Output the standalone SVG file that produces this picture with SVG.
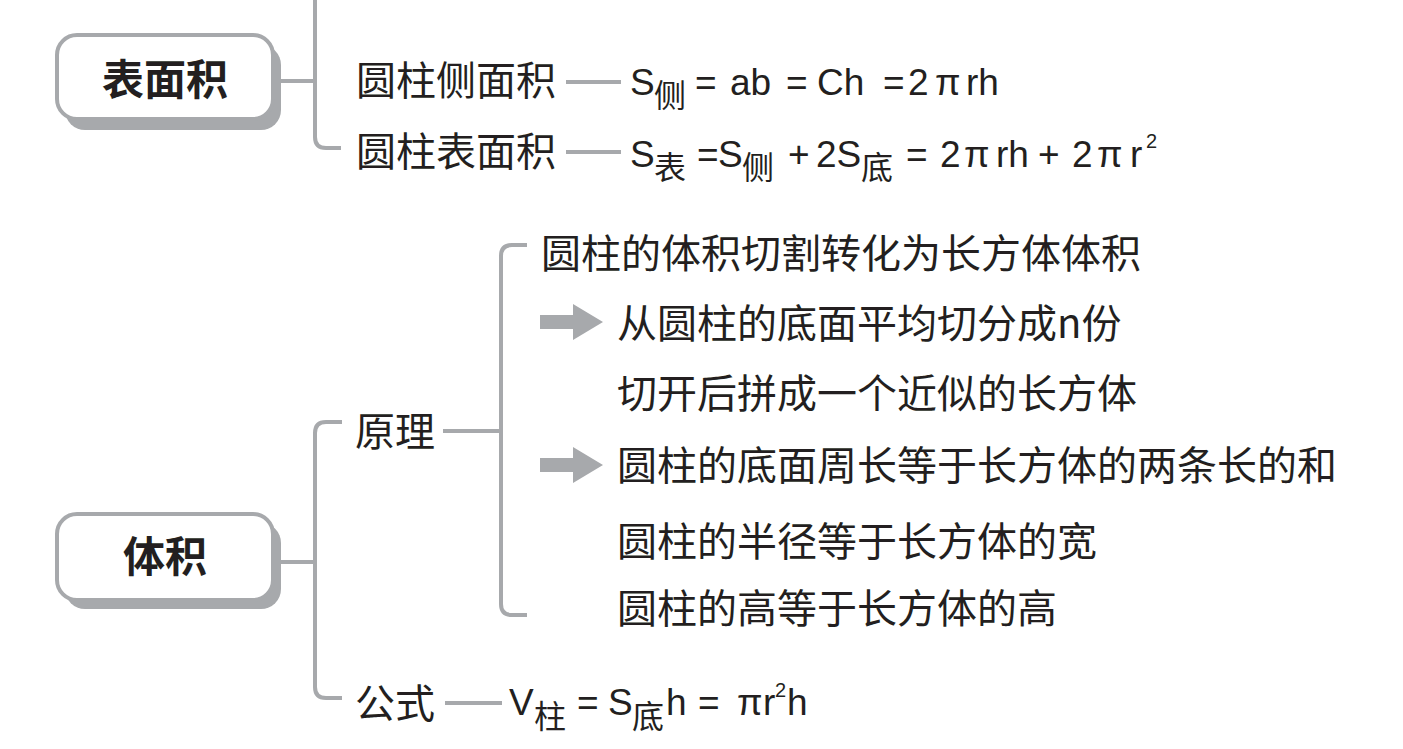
<svg xmlns="http://www.w3.org/2000/svg" width="1403" height="749" viewBox="0 0 1403 749">
<defs>
<style>
.ln{fill:none;stroke:#a7a9ac;stroke-width:4;stroke-linecap:butt}
.sh{fill:#a7a9ac}
.bx{fill:#ffffff;stroke:#a7a9ac;stroke-width:4}
.bt{font-family:"Noto Sans CJK SC","Noto Sans",sans-serif;font-weight:bold;font-size:42px;fill:#231f20;text-anchor:middle}
.cn{font-family:"Noto Sans CJK SC","Noto Sans",sans-serif;font-size:40px;fill:#231f20}
.fm{font-family:"Liberation Sans","Noto Sans CJK SC",sans-serif;font-size:37px;fill:#231f20}
.sb{font-family:"Noto Sans CJK SC",sans-serif;font-size:32px}
.sp{font-size:20px}
.ar{fill:#a7a9ac}
</style>
</defs>
<rect width="1403" height="749" fill="#ffffff"/>
<g id="connectors">
<path class="ln" d="M315,0 V137 Q315,148 326,148 H341"/>
<path class="ln" d="M280,81 H315"/>
<path class="ln" d="M566,82 H621"/>
<path class="ln" d="M566,152 H621"/>
<path class="ln" d="M342,422 H326 Q315,422 315,433 V687 Q315,698 326,698 H342"/>
<path class="ln" d="M280,562 H315"/>
<path class="ln" d="M443,431 H501"/>
<path class="ln" d="M527,245 H512 Q501,245 501,256 V604 Q501,615 512,615 H527"/>
<path class="ln" d="M445,703 H502"/>
</g>
<g id="node-surface">
<rect class="sh" x="65" y="45" width="216" height="85" rx="20"/>
<rect class="bx" x="57" y="35" width="216" height="84" rx="20"/>
<text class="bt" x="165" y="95">表面积</text>
</g>
<g id="node-volume">
<rect class="sh" x="65" y="523" width="216" height="86" rx="20"/>
<rect class="bx" x="57" y="514" width="216" height="86" rx="20"/>
<text class="bt" x="165" y="572">体积</text>
</g>
<g id="node-side-area">
<text class="cn" x="356" y="95">圆柱侧面积</text>
<text class="fm"><tspan x="630" y="95">S</tspan><tspan class="sb" x="654" y="107">侧</tspan><tspan x="695" y="95">=</tspan><tspan x="730" y="95">ab</tspan><tspan x="786" y="95">=</tspan><tspan x="817" y="95">Ch</tspan><tspan x="883" y="95">=</tspan><tspan x="908" y="95">2</tspan><tspan x="935" y="95">π</tspan><tspan x="966" y="95">rh</tspan></text>
</g>
<g id="node-total-area">
<text class="cn" x="356" y="166">圆柱表面积</text>
<text class="fm"><tspan x="630" y="167">S</tspan><tspan class="sb" x="654" y="179">表</tspan><tspan x="697" y="167">=</tspan><tspan x="718" y="167">S</tspan><tspan class="sb" x="742" y="179">侧</tspan><tspan x="788" y="167">+</tspan><tspan x="816" y="167">2S</tspan><tspan class="sb" x="861" y="179">底</tspan><tspan x="906" y="167">=</tspan><tspan x="940" y="167">2</tspan><tspan x="964" y="167">π</tspan><tspan x="996" y="167">rh</tspan><tspan x="1038" y="167">+</tspan><tspan x="1072" y="167">2</tspan><tspan x="1097" y="167">π</tspan><tspan x="1130" y="167">r</tspan><tspan class="sp" x="1146" y="148">2</tspan></text>
</g>
<g id="node-principle">
<text class="cn" x="355" y="446">原理</text>
</g>
<g id="node-p1">
<text class="cn" x="541" y="268">圆柱的体积切割转化为长方体体积</text>
</g>
<g id="node-p2">
<path class="ar" d="M540,315 H573 V304 L603,322 L573,340 V329 H540 Z"/>
<text class="cn" x="617" y="338">从圆柱的底面平均切分成n份</text>
</g>
<g id="node-p3">
<text class="cn" x="617" y="408">切开后拼成一个近似的长方体</text>
</g>
<g id="node-p4">
<path class="ar" d="M540,458 H573 V447 L603,465 L573,483 V472 H540 Z"/>
<text class="cn" x="617" y="480">圆柱的底面周长等于长方体的两条长的和</text>
</g>
<g id="node-p5">
<text class="cn" x="617" y="556">圆柱的半径等于长方体的宽</text>
</g>
<g id="node-p6">
<text class="cn" x="617" y="623">圆柱的高等于长方体的高</text>
</g>
<g id="node-formula">
<text class="cn" x="355" y="718">公式</text>
<text class="fm"><tspan x="509" y="715">V</tspan><tspan class="sb" x="534" y="728">柱</tspan><tspan x="577" y="715">=</tspan><tspan x="608" y="715">S</tspan><tspan class="sb" x="632" y="728">底</tspan><tspan x="666" y="715">h</tspan><tspan x="698" y="715">=</tspan><tspan x="737" y="715">π</tspan><tspan x="763" y="715">r</tspan><tspan class="sp" x="775" y="697">2</tspan><tspan x="787" y="715">h</tspan></text>
</g>
</svg>
